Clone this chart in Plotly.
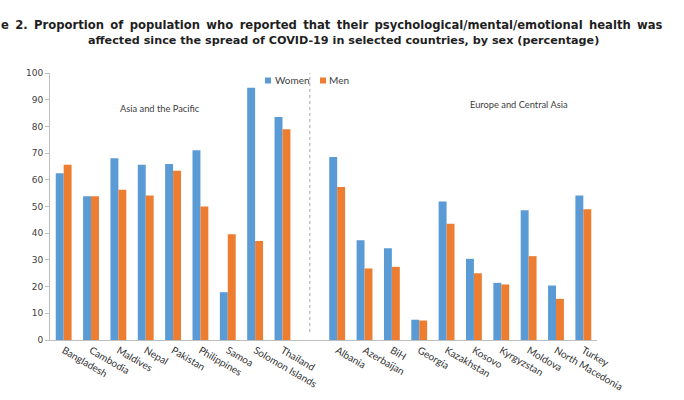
import plotly.graph_objects as go

countries = ["Bangladesh", "Cambodia", "Maldives", "Nepal", "Pakistan", "Philippines",
             "Samoa", "Solomon Islands", "Thailand", " ",
             "Albania", "Azerbaijan", "BiH", "Georgia", "Kazakhstan", "Kosovo",
             "Kyrgyzstan", "Moldova", "North Macedonia", "Turkey"]
women = [62.5, 53.8, 68.1, 65.6, 65.9, 71.1, 17.9, 94.5, 83.5, None,
         68.5, 37.4, 34.4, 7.6, 51.9, 30.4, 21.4, 48.6, 20.4, 54.1]
men = [65.6, 53.8, 56.3, 54.1, 63.4, 50.0, 39.6, 37.1, 78.9, None,
       57.3, 26.8, 27.4, 7.3, 43.5, 25.0, 20.8, 31.4, 15.4, 49.0]
y_ticks = list(range(0, 101, 10))
series_names = ["Women", "Men"]
series_colors = ["#5B9BD5", "#ED7D31"]

title1 = "e 2. Proportion of population who reported that their psychological/mental/emotional health was"
title2 = "affected since the spread of COVID-19 in selected countries, by sex (percentage)"

W, H = 684, 400
ml, mr, mt, mb = 50, 87, 73, 60
PW, PH = W - ml - mr, H - mt - mb


def px_x(x):
    return (x - ml) / PW


def px_y(y):
    return (H - mb - y) / PH


fig = go.Figure()
for name, vals, col in zip(series_names, [women, men], series_colors):
    fig.add_trace(go.Bar(name=name, x=countries, y=vals, marker_color=col,
                         marker_line_width=0, showlegend=False))

fig.update_layout(
    template="none",
    width=W, height=H,
    margin=dict(l=ml, r=mr, t=mt, b=mb, pad=0),
    paper_bgcolor="white", plot_bgcolor="white",
    barmode="group", bargap=0.42, bargroupgap=0,
    showlegend=False,
    font=dict(family="DejaVu Sans", color="#404040"),
)
fig.update_yaxes(range=[0, 100], tickvals=y_ticks, showgrid=False, zeroline=False,
                 automargin=False,
                 showline=True, linecolor="#BFBFBF", linewidth=1,
                 ticks="outside", ticklen=4, tickcolor="#BFBFBF",
                 tickfont=dict(family="DejaVu Sans", size=9, color="#404040"))
fig.update_xaxes(type="category", showgrid=False, showline=True, linecolor="#BFBFBF",
                 linewidth=1, tickangle=30, ticks="", automargin=False,
                 tickfont=dict(family="Lato", size=10, color="#333333"))

# dashed separator in empty slot
fig.add_shape(type="line", xref="x", yref="y", x0=9, x1=9, y0=3, y1=103,
              line=dict(color="#A6A6A6", width=1, dash="dot"))

# legend (compact, Excel-style)
leg_pos = [(265, 273), (320, 327)]
for (sx, tx), name, col in zip(leg_pos, series_names, series_colors):
    fig.add_shape(type="rect", xref="paper", yref="paper",
                  x0=px_x(sx), x1=px_x(sx + 6), y0=px_y(83.5), y1=px_y(77.5),
                  fillcolor=col, line_width=0)
    fig.add_annotation(text=name, xref="paper", yref="paper",
                       x=px_x(tx), y=px_y(80.5), xanchor="left", yanchor="middle",
                       showarrow=False,
                       font=dict(family="Lato", size=10, color="#404040"))

fig.add_annotation(text="Asia and the Pacific", xref="paper", yref="paper",
                   x=px_x(160), y=px_y(108), xanchor="center", yanchor="middle",
                   showarrow=False, font=dict(family="Lato", size=9.3, color="#404040"))
fig.add_annotation(text="Europe and Central Asia", xref="paper", yref="paper",
                   x=px_x(519), y=px_y(105), xanchor="center", yanchor="middle",
                   showarrow=False, font=dict(family="Lato", size=9.3, color="#404040"))

# first title line is justified (wider word spacing) in the source
fig.add_annotation(text="<b>" + title1.replace(" ", " \u2009") + "</b>",
                   xref="paper", yref="paper",
                   x=px_x(-1), y=px_y(25), xanchor="left", yanchor="middle",
                   showarrow=False,
                   font=dict(family="DejaVu Sans", size=11.6, color="#1F1F1F"))
fig.add_annotation(text="<b>" + title2 + "</b>", xref="paper", yref="paper",
                   x=px_x(343), y=px_y(41), xanchor="center", yanchor="middle",
                   showarrow=False,
                   font=dict(family="DejaVu Sans", size=11.2, color="#1F1F1F"))

fig.write_html("out.html", config={"displayModeBar": False},
               post_script="document.body.style.margin='0';document.body.style.overflow='hidden';")
